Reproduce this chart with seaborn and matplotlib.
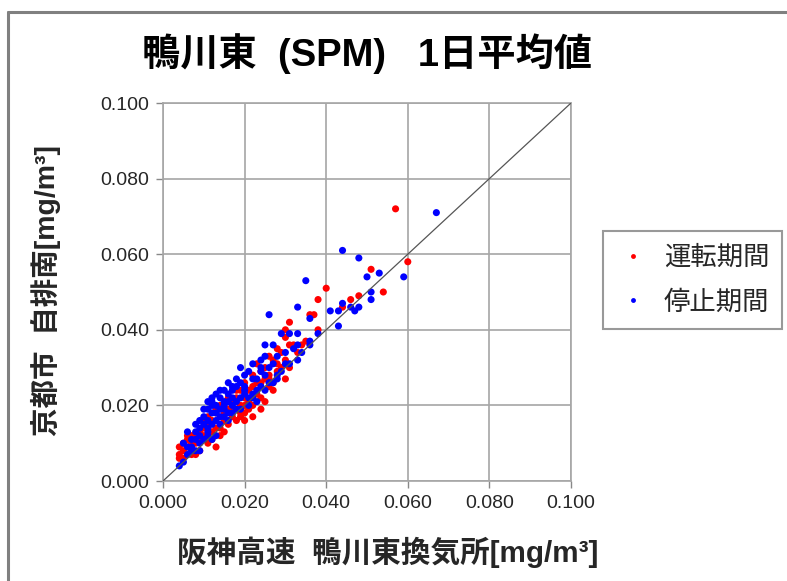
import matplotlib
matplotlib.use('Agg')
import matplotlib.pyplot as plt
from matplotlib.lines import Line2D
import seaborn as sns
import pandas as pd

# daily SPM averages [mg/m3], x = 阪神高速 鴨川東換気所, y = 京都市 自排南
run_x = [0.057, 0.060, 0.051, 0.040, 0.054, 0.048, 0.038, 0.046, 0.044, 0.036,
         0.037, 0.031, 0.038, 0.030, 0.030, 0.028, 0.032, 0.034, 0.033, 0.031,
         0.029, 0.026, 0.028, 0.027, 0.025, 0.030, 0.023, 0.022, 0.024, 0.026,
         0.026, 0.027, 0.024, 0.022, 0.020, 0.021, 0.019, 0.023, 0.024, 0.025,
         0.022, 0.020, 0.018, 0.017, 0.019, 0.021, 0.020, 0.019, 0.018, 0.016,
         0.015, 0.017, 0.014, 0.013, 0.015, 0.016, 0.014, 0.012, 0.011, 0.013,
         0.012, 0.011, 0.010, 0.009, 0.010, 0.012, 0.013, 0.011, 0.009, 0.008,
         0.007, 0.008, 0.006, 0.004, 0.005, 0.006, 0.007, 0.005, 0.004, 0.008,
         0.009, 0.016, 0.018, 0.020, 0.021, 0.023, 0.025, 0.026, 0.028, 0.029,
         0.031, 0.019, 0.017, 0.015, 0.014, 0.022, 0.024, 0.020, 0.027, 0.030,
         0.035, 0.005, 0.006, 0.004, 0.007, 0.010, 0.013]
run_y = [0.072, 0.058, 0.056, 0.051, 0.050, 0.049, 0.048, 0.048, 0.046, 0.044,
         0.044, 0.042, 0.040, 0.040, 0.038, 0.035, 0.036, 0.036, 0.034, 0.036,
         0.034, 0.033, 0.031, 0.032, 0.030, 0.032, 0.031, 0.028, 0.029, 0.028,
         0.027, 0.026, 0.026, 0.025, 0.026, 0.024, 0.024, 0.023, 0.022, 0.021,
         0.020, 0.022, 0.022, 0.021, 0.020, 0.019, 0.018, 0.017, 0.016, 0.019,
         0.018, 0.017, 0.020, 0.018, 0.016, 0.015, 0.014, 0.016, 0.017, 0.014,
         0.013, 0.015, 0.014, 0.013, 0.012, 0.011, 0.009, 0.010, 0.011, 0.012,
         0.012, 0.010, 0.011, 0.009, 0.008, 0.009, 0.007, 0.006, 0.006, 0.007,
         0.008, 0.022, 0.024, 0.020, 0.021, 0.026, 0.027, 0.025, 0.029, 0.030,
         0.030, 0.018, 0.019, 0.013, 0.012, 0.017, 0.019, 0.016, 0.024, 0.027,
         0.037, 0.010, 0.012, 0.007, 0.010, 0.016, 0.019]

stop_x = [0.067, 0.044, 0.048, 0.053, 0.050, 0.059, 0.035, 0.051, 0.051, 0.044,
          0.046, 0.048, 0.047, 0.043, 0.041, 0.033, 0.036, 0.026, 0.043, 0.038,
          0.029, 0.031, 0.033, 0.036, 0.025, 0.027, 0.033, 0.036, 0.034, 0.032,
          0.030, 0.028, 0.025, 0.024, 0.031, 0.033, 0.027, 0.024, 0.022, 0.019,
          0.021, 0.024, 0.026, 0.028, 0.025, 0.023, 0.022, 0.020, 0.018, 0.020,
          0.018, 0.016, 0.017, 0.025, 0.027, 0.028, 0.015, 0.014, 0.016, 0.014,
          0.013, 0.012, 0.012, 0.015, 0.016, 0.017, 0.018, 0.019, 0.020, 0.021,
          0.022, 0.022, 0.023, 0.018, 0.019, 0.016, 0.014, 0.013, 0.011, 0.011,
          0.010, 0.012, 0.014, 0.015, 0.013, 0.010, 0.009, 0.011, 0.012, 0.014,
          0.010, 0.009, 0.008, 0.008, 0.011, 0.013, 0.011, 0.010, 0.012, 0.009,
          0.007, 0.006, 0.005, 0.006, 0.007, 0.009, 0.008, 0.007, 0.006, 0.004,
          0.005, 0.017, 0.021, 0.023, 0.024, 0.026, 0.015, 0.019, 0.017, 0.029,
          0.030, 0.020, 0.016, 0.009, 0.012, 0.013, 0.015, 0.011, 0.008, 0.017]
stop_y = [0.071, 0.061, 0.059, 0.055, 0.054, 0.054, 0.053, 0.050, 0.048, 0.047,
          0.046, 0.046, 0.045, 0.045, 0.045, 0.046, 0.043, 0.044, 0.041, 0.039,
          0.039, 0.039, 0.039, 0.037, 0.036, 0.036, 0.036, 0.036, 0.034, 0.035,
          0.034, 0.033, 0.033, 0.032, 0.031, 0.032, 0.031, 0.030, 0.031, 0.030,
          0.029, 0.029, 0.030, 0.028, 0.028, 0.027, 0.027, 0.028, 0.027, 0.025,
          0.025, 0.026, 0.024, 0.024, 0.026, 0.027, 0.024, 0.024, 0.023, 0.022,
          0.023, 0.022, 0.021, 0.021, 0.021, 0.020, 0.021, 0.022, 0.023, 0.022,
          0.022, 0.023, 0.024, 0.019, 0.019, 0.018, 0.019, 0.020, 0.019, 0.021,
          0.019, 0.018, 0.017, 0.017, 0.016, 0.017, 0.016, 0.016, 0.015, 0.015,
          0.015, 0.014, 0.015, 0.013, 0.013, 0.012, 0.012, 0.011, 0.011, 0.010,
          0.011, 0.013, 0.010, 0.009, 0.009, 0.008, 0.008, 0.008, 0.007, 0.004,
          0.005, 0.018, 0.020, 0.021, 0.025, 0.026, 0.019, 0.026, 0.025, 0.029,
          0.031, 0.024, 0.016, 0.012, 0.020, 0.018, 0.020, 0.014, 0.011, 0.022]

labels = ['運転期間', '停止期間']
colors = {'運転期間': '#ff0000', '停止期間': '#0000ff'}
ticks = [0.0, 0.02, 0.04, 0.06, 0.08, 0.1]

df = pd.concat([
    pd.DataFrame({'x': run_x, 'y': run_y, 'period': labels[0]}),
    pd.DataFrame({'x': stop_x, 'y': stop_y, 'period': labels[1]}),
], ignore_index=True)

sns.set_style('white')
plt.rcParams['font.family'] = ['Noto Sans CJK JP', 'DejaVu Sans']
# latin glyphs in an Arial-like face, CJK falls back to Noto
mixed = ['Liberation Sans', 'Noto Sans CJK JP']

fig = plt.figure(figsize=(7.87, 5.81), dpi=100)
ax = fig.add_axes([163 / 787, 1 - 481 / 581, 408 / 787, 378 / 581])

sns.scatterplot(data=df, x='x', y='y', hue='period', palette=colors,
                s=26, linewidth=0, ax=ax, legend=False, zorder=3)
ax.plot([0, 0.1], [0, 0.1], color='#555555', lw=0.9, zorder=4)

ax.set_xlim(0, 0.1)
ax.set_ylim(0, 0.1)
ax.set_xticks(ticks)
ax.set_yticks(ticks)
ax.set_xticklabels([f'{t:.3f}' for t in ticks], family='Liberation Sans', fontsize=14)
ax.set_yticklabels([f'{t:.3f}' for t in ticks], family='Liberation Sans', fontsize=14)
ax.grid(True, color='#a6a6a6', lw=1.2, zorder=0)
ax.set_axisbelow(True)
for sp in ax.spines.values():
    sp.set_color('#a6a6a6')
    sp.set_linewidth(1.2)
ax.tick_params(axis='both', length=5, width=1, color='#888888', direction='out',
               pad=5, left=True, bottom=True)
ax.set_xlabel('')
ax.set_ylabel('')

fig.text(0.466, 0.907, '鴨川東  (SPM)   1日平均値', ha='center', va='center',
         fontsize=27.5, fontweight='bold', color='black', family=mixed)
fig.text(0.058, 0.5, '京都市  自排南[mg/m³]', ha='center', va='center',
         rotation=90, fontsize=20.5, fontweight='bold', family=mixed)
fig.text(0.493, 0.05, '阪神高速  鴨川東換気所[mg/m³]', ha='center', va='center',
         fontsize=21.3, fontweight='bold', family=mixed)

handles = [Line2D([], [], ls='none', marker='o', ms=3.5, mec='none', mfc=colors[k])
           for k in labels]
leg = fig.legend(handles, labels, loc='upper left', bbox_to_anchor=(603 / 787, 1 - 231 / 581),
                 frameon=True, fancybox=False, fontsize=19, handlelength=1.3,
                 handletextpad=0.5, labelspacing=0.65, borderpad=0.5, borderaxespad=0)
leg.get_frame().set_edgecolor('#808080')
leg.get_frame().set_linewidth(1.5)

# outer chart frame (left and top edges visible)
fig.add_artist(Line2D([8 / 787, 8 / 787], [0, 1 - 12 / 581], color='#808080', lw=2.2))
fig.add_artist(Line2D([8 / 787, 1], [1 - 12 / 581, 1 - 12 / 581], color='#808080', lw=2.2))

plt.savefig('out.png', dpi=100)
plt.close()
